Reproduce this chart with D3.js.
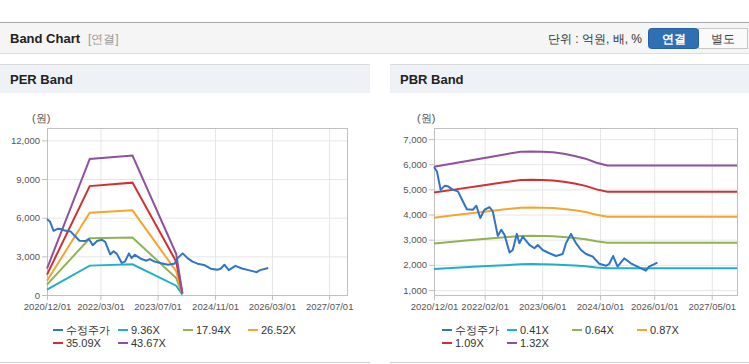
<!DOCTYPE html>
<html>
<head>
<meta charset="utf-8">
<script src="https://cdn.jsdelivr.net/npm/d3@7"></script>
<style>
  body { margin: 0; background: #fff; }
  svg { display: block; font-family: "Liberation Sans", Arial, sans-serif; }
  .tick text { fill: #555; font-size: 9.5px; }
  .tick line { stroke: #c0c0c0; }
  .grid .tick line { stroke: #e6e6e6; }
</style>
</head>
<body>
<svg id="chart" width="749" height="364"></svg>
<script>
// adjusted price (same stock in both panels)
const priceDates = ['2020-12-01','2020-12-26','2021-01-26','2021-03-01','2021-03-29','2021-05-10','2021-06-21',
  '2021-08-02','2021-09-04','2021-10-25','2021-11-23','2021-12-26','2022-01-31','2022-03-14','2022-04-11',
  '2022-05-23','2022-06-21','2022-07-19','2022-08-30','2022-09-26','2022-10-30','2022-11-21','2022-12-19',
  '2023-02-14','2023-03-28','2023-04-25','2023-06-06','2023-08-01','2023-09-26','2023-11-21','2023-12-19',
  '2024-01-30','2024-03-12','2024-04-24','2024-06-05','2024-07-30','2024-09-25','2024-11-20','2024-12-18',
  '2025-01-20','2025-02-26','2025-04-23','2025-06-18','2025-08-13','2025-10-22','2025-11-19','2026-01-28'];
const priceValues = [5890, 5710, 4980, 5140, 5120, 4980, 4920,
  4520, 4210, 4190, 4350, 3860, 4190, 4290, 4120,
  3150, 3390, 3190, 2490, 2590, 3230, 2860, 3120,
  2790, 2660, 2790, 2590, 2460, 2350, 2430, 2860,
  3230, 2860, 2590, 2430, 2330, 2040, 1960, 2040,
  2350, 1930, 2260, 2060, 1930, 1770, 1930, 2090];

// PER band
const perBandDates = ['2020-12-01','2021-11-30','2022-11-29','2023-12-06','2024-01-28'];
const per936  = [410, 2280, 2380, 720, 30];
const per1794 = [800, 4400, 4460, 1320, 60];
const per2652 = [1100, 6380, 6570, 1850, 90];
const per3509 = [1580, 8450, 8720, 2600, 120];
const per4367 = [2050, 10560, 10820, 3200, 150];
const perLabels = ['수정주가', '9.36X', '17.94X', '26.52X', '35.09X', '43.67X'];
const perTicksX = ['2020/12/01', '2022/03/01', '2023/07/01', '2024/11/01', '2026/03/01', '2027/07/01'];
const perTicksY = [0, 3000, 6000, 9000, 12000];

// PBR band
const pbrBandDates = ['2020-12-01','2021-06-01','2021-12-01','2022-06-01','2022-12-01','2023-03-01','2023-06-01',
  '2023-09-01','2023-12-01','2024-03-01','2024-06-01','2024-09-01','2024-12-01','2025-06-01','2026-06-01','2027-11-30'];
const pbr041 = [1830, 1880, 1930, 1970, 2020, 2030, 2020, 2010, 1990, 1970, 1940, 1890, 1860, 1860, 1860, 1860];
const pbr064 = [2850, 2930, 3010, 3080, 3150, 3160, 3150, 3140, 3110, 3070, 3020, 2940, 2880, 2880, 2880, 2880];
const pbr087 = [3870, 3980, 4080, 4180, 4270, 4280, 4270, 4260, 4220, 4170, 4100, 3990, 3910, 3910, 3910, 3910];
const pbr109 = [4880, 5000, 5120, 5250, 5370, 5380, 5370, 5350, 5300, 5230, 5140, 5000, 4910, 4910, 4910, 4910];
const pbr132 = [5900, 6050, 6200, 6350, 6500, 6510, 6500, 6480, 6420, 6330, 6220, 6060, 5950, 5950, 5950, 5950];
const pbrLabels = ['수정주가', '0.41X', '0.64X', '0.87X', '1.09X', '1.32X'];
const pbrTicksX = ['2020/12/01', '2022/02/01', '2023/06/01', '2024/10/01', '2026/01/01', '2027/05/01'];
const pbrTicksY = [1000, 2000, 3000, 4000, 5000, 6000, 7000];

const colors = ['#2f74c8', '#1fb0c8', '#8db450', '#f5a530', '#d13030', '#8f509f'];

const parseDay = d3.timeParse('%Y-%m-%d');
const parseTick = d3.timeParse('%Y/%m/%d');
const svg = d3.select('#chart');

// top header
svg.append('rect').attr('x', 0).attr('y', 22).attr('width', 749).attr('height', 31).attr('fill', '#f5f5f5');
svg.append('line').attr('x1', 0).attr('x2', 749).attr('y1', 22.5).attr('y2', 22.5).attr('stroke', '#aaa');
svg.append('line').attr('x1', 0).attr('x2', 749).attr('y1', 53.5).attr('y2', 53.5).attr('stroke', '#ddd');
svg.append('text').attr('x', 10).attr('y', 43).attr('font-size', 13).attr('font-weight', 'bold').attr('fill', '#222').text('Band Chart');
svg.append('text').attr('x', 88).attr('y', 43).attr('font-size', 12).attr('fill', '#999').text('[연결]');
svg.append('text').attr('x', 642).attr('y', 43).attr('font-size', 12).attr('fill', '#333')
  .attr('text-anchor', 'end').text('단위 : 억원, 배, %');
svg.append('rect').attr('x', 698.5).attr('y', 28.5).attr('width', 49).attr('height', 20)
  .attr('fill', '#fafafa').attr('stroke', '#c8c8c8');
svg.append('rect').attr('x', 648.5).attr('y', 28.5).attr('width', 50).attr('height', 20).attr('rx', 3)
  .attr('fill', '#2f6fb3').attr('stroke', '#285f9c');
svg.append('text').attr('x', 673.5).attr('y', 43).attr('font-size', 12).attr('font-weight', 'bold')
  .attr('fill', '#fff').attr('text-anchor', 'middle').text('연결');
svg.append('text').attr('x', 723).attr('y', 43).attr('font-size', 12).attr('fill', '#444')
  .attr('text-anchor', 'middle').text('별도');

function drawPanel(p) {
  const g = svg.append('g');
  // panel header
  g.append('rect').attr('x', p.x0).attr('y', 64).attr('width', p.x1 - p.x0).attr('height', 29).attr('fill', '#eef2f7');
  g.append('line').attr('x1', p.x0).attr('x2', p.x1).attr('y1', 64.5).attr('y2', 64.5).attr('stroke', '#d8d8d8');
  g.append('text').attr('x', p.x0 + 10).attr('y', 84).attr('font-size', 13).attr('font-weight', 'bold')
    .attr('fill', '#222').text(p.title);
  g.append('line').attr('x1', p.x0).attr('x2', p.x1).attr('y1', 362.5).attr('y2', 362.5).attr('stroke', '#d0d0d0');

  const x = d3.scaleTime().domain([parseDay('2020-12-01'), parseDay('2027-11-30')]).range([p.left, p.right]);
  const y = d3.scaleLinear().domain(p.yDomain).range([295, 128]);
  const xTicks = p.ticksX.map(parseTick);

  // grid
  g.append('g').attr('class', 'grid').attr('transform', 'translate(0,295)')
    .call(d3.axisBottom(x).tickValues(xTicks).tickSize(-167).tickFormat(''))
    .call(a => a.select('.domain').remove());
  g.append('g').attr('class', 'grid').attr('transform', `translate(${p.left},0)`)
    .call(d3.axisLeft(y).tickValues(p.ticksY).tickSize(-(p.right - p.left)).tickFormat(''))
    .call(a => a.select('.domain').remove());

  g.append('rect').attr('x', p.left + 0.5).attr('y', 128.5).attr('width', p.right - p.left).attr('height', 167)
    .attr('fill', 'none').attr('stroke', '#c0c0c0');

  // axes
  g.append('g').attr('transform', 'translate(0,295)')
    .call(d3.axisBottom(x).tickValues(xTicks).tickSize(5).tickPadding(3).tickFormat(d3.timeFormat('%Y/%m/%d')))
    .call(a => a.select('.domain').remove());
  g.append('g').attr('transform', `translate(${p.left},0)`)
    .call(d3.axisLeft(y).tickValues(p.ticksY).tickSize(5).tickPadding(2).tickFormat(d3.format(',')))
    .call(a => a.select('.domain').remove());

  g.append('text').attr('x', p.unitX).attr('y', 122).attr('font-size', 11).attr('fill', '#555').text('(원)');

  const line = d3.line().x(d => x(d[0])).y(d => y(d[1]));
  const bandDates = p.bandDates.map(parseDay);
  p.bands.forEach((vals, i) => {
    g.append('path').datum(vals.map((v, j) => [bandDates[j], v]))
      .attr('d', line).attr('fill', 'none').attr('stroke', colors[i + 1]).attr('stroke-width', 2);
  });
  g.append('path').datum(priceValues.map((v, j) => [parseDay(priceDates[j]), v]))
    .attr('d', line).attr('fill', 'none').attr('stroke', colors[0]).attr('stroke-width', 2)
    .attr('stroke-linejoin', 'round');

  // legend
  p.labels.forEach((label, i) => {
    const lx = p.legendX + (i % 4) * 65;
    const ly = 330 + Math.floor(i / 4) * 13;
    g.append('line').attr('x1', lx).attr('x2', lx + 10).attr('y1', ly).attr('y2', ly)
      .attr('stroke', colors[i]).attr('stroke-width', 2);
    g.append('text').attr('x', lx + 13).attr('y', ly).attr('dy', '0.36em').attr('font-size', 11)
      .attr('fill', '#333').text(label);
  });
}

drawPanel({
  title: 'PER Band', x0: 0, x1: 370, left: 47, right: 347, unitX: 32,
  yDomain: [0, 12960], ticksY: perTicksY, ticksX: perTicksX,
  bandDates: perBandDates, bands: [per936, per1794, per2652, per3509, per4367],
  labels: perLabels, legendX: 53
});
drawPanel({
  title: 'PBR Band', x0: 390, x1: 749, left: 434, right: 737, unitX: 417,
  yDomain: [800, 7440], ticksY: pbrTicksY, ticksX: pbrTicksX,
  bandDates: pbrBandDates, bands: [pbr041, pbr064, pbr087, pbr109, pbr132],
  labels: pbrLabels, legendX: 442
});
</script>
</body>
</html>
